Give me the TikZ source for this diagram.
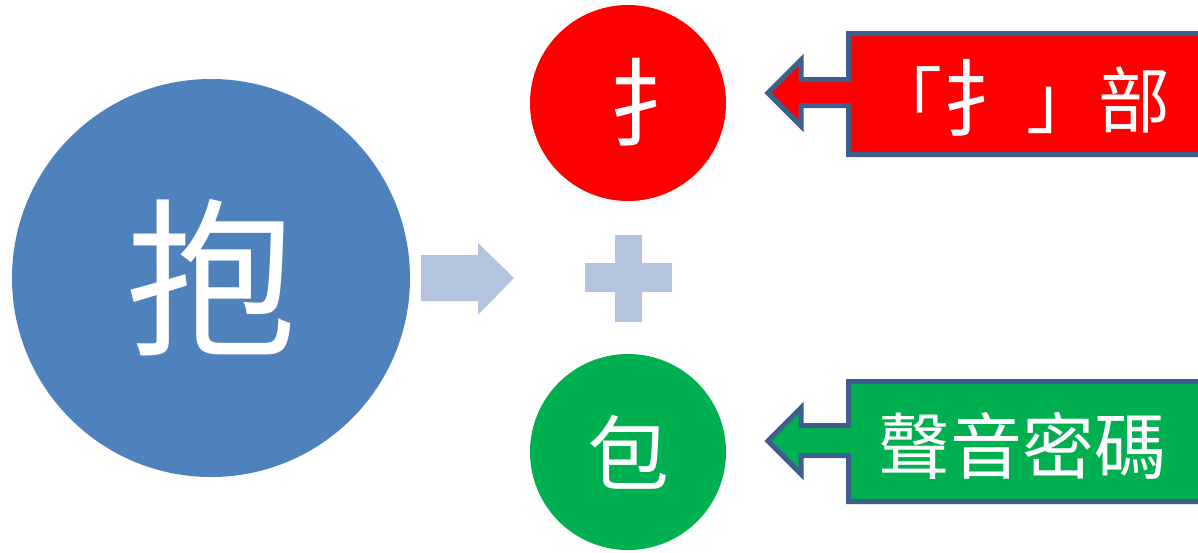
\documentclass[tikz,border=0pt]{standalone}
\usepackage{fontspec}
\newfontfamily\cjk{Noto Sans CJK TC}
\definecolor{bigblue}{HTML}{4F81BD}
\definecolor{lightblue}{HTML}{B4C4DE}
\definecolor{calloutborder}{HTML}{3C5F8E}
\definecolor{pred}{HTML}{FF0000}
\definecolor{pgreen}{HTML}{00B050}
\tikzset{
  circ/.style={circle, fill=#1, draw=none, text=white, inner sep=0pt, font=\cjk},
  callout/.style={fill=#1, draw=calloutborder, line width=5pt, line join=miter},
  ctext/.style={text=white, font=\cjk\fontsize{72}{72}\selectfont, inner sep=0pt, anchor=center}
}
\begin{document}
\begin{tikzpicture}[x=1pt,y=-1pt]
\useasboundingbox (0,0) rectangle (1198,552);
\clip (0,0) rectangle (1198,552);
\fill[white] (0,0) rectangle (1198,552);
% big circle
\node[circ=bigblue, minimum size=398pt, font=\cjk\fontsize{170}{170}\selectfont] (big) at (211,278) {抱};
% small circles
\node[circ=pred, minimum size=196pt] (hand) at (628,103) {};
\node[text=white, inner sep=0pt, font=\cjk\fontsize{96}{96}\selectfont] (handtxt) at (656,102) {扌};
\node[circ=pgreen, minimum size=196pt, font=\cjk\fontsize{82}{82}\selectfont] (bao) at (628,452) {包};
% light arrow
\fill[lightblue] (421,255) -- (478,255) -- (478,243) -- (514,278) -- (478,315) -- (478,301) -- (421,301) -- cycle;
% plus
\fill[lightblue] (615,235) rectangle (642,322);
\fill[lightblue] (585,263) rectangle (672,292);
% red callout
\draw[callout=pred] (768,93) -- (801,60) -- (801,79.5) -- (848.5,79.5) -- (848.5,33.5) -- (1215,33.5) -- (1215,154.5) -- (848.5,154.5) -- (848.5,105.5) -- (801,105.5) -- (801,126) -- cycle;
\node[ctext] (radical) at (1020,98) {「\raisebox{-3pt}{\fontsize{84}{84}\selectfont 扌}」部};
% green callout
\draw[callout=pgreen] (768,441) -- (801,408) -- (801,425.5) -- (848.5,425.5) -- (848.5,381.5) -- (1215,381.5) -- (1215,501.5) -- (848.5,501.5) -- (848.5,455.5) -- (801,455.5) -- (801,474) -- cycle;
\node[ctext] (phon) at (1022,446) {聲音密碼};
\end{tikzpicture}
\end{document}
